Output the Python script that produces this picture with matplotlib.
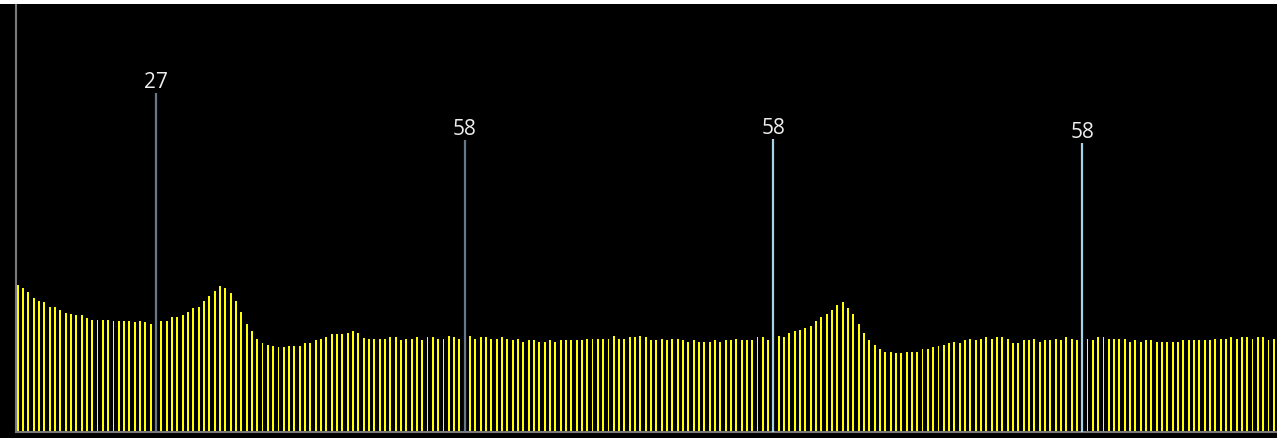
import matplotlib
matplotlib.use('Agg')
import matplotlib.pyplot as plt
from matplotlib.patches import Rectangle

# bar heights (in pixels above the baseline)
heights = [147, 144, 140, 134, 131, 130, 125, 125, 122, 119,
           118, 117, 117, 114, 112, 112, 112, 112, 111, 111,
           111, 111, 110, 111, 110, 108, 110, 111, 111, 115,
           115, 117, 120, 124, 125, 131, 136, 141, 146, 144,
           139, 131, 120, 108, 101, 93, 89, 87, 86, 85,
           85, 86, 86, 86, 89, 89, 92, 93, 95, 98,
           98, 98, 99, 101, 99, 94, 93, 93, 93, 93,
           95, 95, 92, 93, 93, 95, 92, 95, 95, 93,
           93, 96, 95, 93, 95, 96, 93, 95, 95, 93,
           93, 95, 93, 92, 93, 90, 92, 92, 90, 90,
           92, 90, 92, 92, 92, 92, 92, 93, 93, 93,
           93, 93, 96, 93, 93, 95, 95, 96, 95, 92,
           92, 93, 92, 93, 93, 92, 90, 92, 90, 90,
           90, 92, 90, 92, 92, 93, 92, 92, 92, 95,
           95, 92, 95, 96, 95, 99, 101, 102, 104, 106,
           111, 115, 118, 122, 127, 130, 124, 118, 108, 99,
           92, 87, 83, 80, 80, 79, 79, 80, 80, 80,
           83, 83, 85, 86, 87, 89, 90, 89, 92, 93,
           92, 93, 95, 93, 95, 95, 93, 89, 89, 92,
           92, 93, 90, 92, 92, 93, 92, 95, 93, 92,
           93, 93, 92, 95, 95, 93, 93, 93, 93, 90,
           92, 90, 92, 92, 90, 90, 90, 90, 90, 92,
           92, 92, 92, 92, 92, 93, 93, 93, 95, 93,
           95, 95, 93, 95, 95, 92, 93]

# marker lines: bar index, height, label
marker_idx = [26, 84, 142, 200]
marker_h = [339, 292, 293, 289]
marker_labels = ['27', '58', '58', '58']
marker_colors = ['#66788a', '#66788a', '#a8d0e6', '#a8d0e6']

W, H = 1277, 439
fig = plt.figure(figsize=(W / 100, H / 100), dpi=100, facecolor='black')

# thin white strip along the top
fig.patches.append(Rectangle((0, 1 - 5 / H), 1, 5 / H, transform=fig.transFigure,
                             facecolor='white', edgecolor='none', zorder=0))

ax = fig.add_axes([15.5 / W, 6 / H, (W - 15.5) / W, 428 / H])
ax.set_facecolor('none')

x = list(range(len(heights)))
ax.bar(x, heights, width=0.36, color='#ffff00', linewidth=0, zorder=2)

for i in range(len(marker_idx)):
    ax.vlines(marker_idx[i], 0, marker_h[i], colors=marker_colors[i], linewidth=1.6, zorder=3)
    ax.text(marker_idx[i], marker_h[i] + 1, marker_labels[i], color='#eeeeee',
            fontsize=15, family='Open Sans', ha='center', va='bottom', zorder=4)

ax.set_xlim(-0.41, 236.6)
ax.set_ylim(0, 428)

for s in ['top', 'right']:
    ax.spines[s].set_visible(False)
for s in ['left', 'bottom']:
    ax.spines[s].set_color('#7a7a7a')
    ax.spines[s].set_linewidth(1.5)
ax.set_xticks([])
ax.set_yticks([])

fig.savefig('out.png', dpi=100, facecolor=fig.get_facecolor())
